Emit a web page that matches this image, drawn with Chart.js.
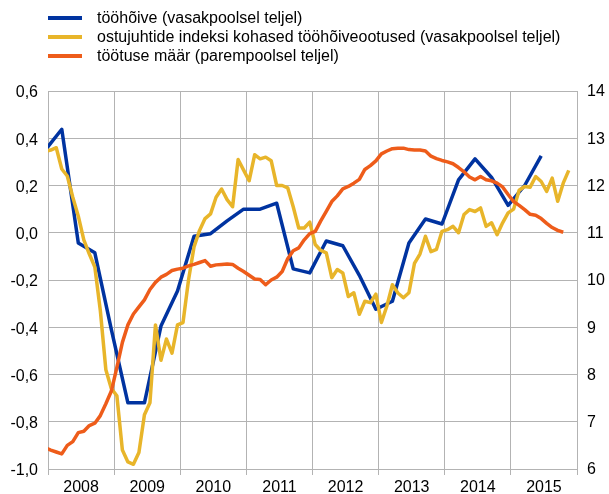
<!DOCTYPE html>
<html>
<head>
<meta charset="utf-8">
<script src="https://cdn.jsdelivr.net/npm/chart.js@4.4.1/dist/chart.umd.min.js"></script>
<style>
  body { margin: 0; background: #fff; }
  #wrap { position: relative; width: 609px; height: 494px; }
  #legend { position: absolute; left: 48px; top: 8px; font: 16px "Liberation Sans", Arial, sans-serif; color: #000; }
  .item { display: flex; align-items: center; height: 19.2px; white-space: nowrap; }
  .swatch { width: 34px; height: 4px; margin-right: 15px; }
</style>
</head>
<body>
<div id="wrap">
  <canvas id="chart" width="609" height="494"></canvas>
  <div id="legend"></div>
</div>
<script>
// aasta sildid x-teljel
const years = [2008, 2009, 2010, 2011, 2012, 2013, 2014, 2015];

const seriesNames = [
    'tööhõive (vasakpoolsel teljel)',
    'ostujuhtide indeksi kohased tööhõiveootused (vasakpoolsel teljel)',
    'töötuse määr (parempoolsel teljel)'
];
const colors = ['#0033a0', '#e8b52a', '#ee5c1a'];
const gridColor = '#b3b3b3';

// tööhõive, kvartaalne, alates 2007 IV kv
const employment = [
    0.35,
    0.438, -0.043, -0.085, -0.41,
    -0.72, -0.72, -0.395, -0.247,
    -0.015, -0.004, 0.05, 0.10,
    0.10, 0.125, -0.153, -0.17,
    -0.035, -0.055, -0.18, -0.324,
    -0.29, -0.043, 0.058, 0.037,
    0.224, 0.313, 0.234, 0.116,
    0.2, 0.325
];

// ostujuhtide indeks, igakuine, alates dets 2007
const pmiExpectations = [
    0.345,
    0.35, 0.36, 0.27, 0.24, 0.15, 0.07, -0.03, -0.09, -0.145, -0.33, -0.58, -0.66,
    -0.69, -0.92, -0.97, -0.98, -0.93, -0.77, -0.72, -0.39, -0.54, -0.45, -0.51, -0.39,
    -0.38, -0.20, -0.06, 0.01, 0.06, 0.08, 0.15, 0.185, 0.14, 0.11, 0.31, 0.265,
    0.22, 0.33, 0.313, 0.32, 0.305, 0.20, 0.20, 0.19, 0.11, 0.02, 0.02, 0.045,
    -0.05, -0.075, -0.085, -0.19, -0.156, -0.17, -0.27, -0.254, -0.345, -0.29, -0.296, -0.26,
    -0.38, -0.31, -0.22, -0.255, -0.275, -0.254, -0.13, -0.09, -0.015, -0.08, -0.07, 0.006,
    0.013, 0.027, 0.0, 0.077, 0.098, 0.09, 0.105, 0.027, 0.042, -0.008, 0.042, 0.084,
    0.10, 0.18, 0.196, 0.193, 0.238, 0.217, 0.175, 0.231, 0.133, 0.21, 0.264
];

// töötuse määr, igakuine, alates dets 2007
const unemployment = [
    6.45,
    6.40, 6.36, 6.32, 6.50, 6.58, 6.77, 6.80, 6.92, 6.97, 7.13, 7.38, 7.65,
    8.15, 8.68, 9.05, 9.28, 9.43, 9.58, 9.80, 9.95, 10.06, 10.12, 10.20, 10.23,
    10.25, 10.30, 10.33, 10.37, 10.41, 10.29, 10.32, 10.33, 10.34, 10.33, 10.25, 10.18,
    10.10, 10.02, 10.01, 9.90, 10.00, 10.06, 10.18, 10.45, 10.62, 10.68, 10.85, 10.98,
    11.03, 11.25, 11.45, 11.66, 11.78, 11.93, 11.98, 12.05, 12.13, 12.34, 12.42, 12.52,
    12.67, 12.73, 12.78, 12.79, 12.79, 12.76, 12.75, 12.75, 12.73, 12.62, 12.57, 12.53,
    12.50, 12.46, 12.38, 12.29, 12.18, 12.12, 12.19, 12.12, 12.10, 12.05, 11.97, 11.81,
    11.66, 11.58, 11.49, 11.39, 11.37, 11.30, 11.20, 11.11, 11.05, 11.01
];

// kuu keskpunkt aastates (indeks 0 = detsember 2007)
const monthX = i => 2007 + (11 + i + 0.5) / 12;
const quarterX = q => monthX(3 * q);

// legend HTML-is
const legendEl = document.getElementById('legend');
seriesNames.forEach((name, i) => {
    const row = document.createElement('div');
    row.className = 'item';
    row.innerHTML = '<span class="swatch" style="background:' + colors[i] + '"></span><span>' + name + '</span>';
    legendEl.appendChild(row);
});

Chart.defaults.font.family = '"Liberation Sans", Arial, sans-serif';
Chart.defaults.font.size = 16;
Chart.defaults.color = '#000';

const ctx = document.getElementById('chart').getContext('2d');
new Chart(ctx, {
    type: 'line',
    data: {
        datasets: [
            {
                label: seriesNames[0],
                data: employment.map((v, q) => ({ x: quarterX(q), y: v })),
                borderColor: colors[0],
                backgroundColor: colors[0],
                yAxisID: 'y',
                order: 2
            },
            {
                label: seriesNames[1],
                data: pmiExpectations.map((v, i) => ({ x: monthX(i), y: v })),
                borderColor: colors[1],
                backgroundColor: colors[1],
                yAxisID: 'y',
                order: 1
            },
            {
                label: seriesNames[2],
                data: unemployment.map((v, i) => ({ x: monthX(i), y: v })),
                borderColor: colors[2],
                backgroundColor: colors[2],
                yAxisID: 'y2',
                order: 0
            }
        ]
    },
    options: {
        responsive: false,
        animation: false,
        layout: { padding: { top: 91, left: 0, right: 0, bottom: 0 } },
        elements: {
            point: { radius: 0 },
            line: { borderWidth: 3.5, tension: 0, borderJoinStyle: 'round' }
        },
        plugins: {
            legend: { display: false },
            tooltip: { enabled: false }
        },
        scales: {
            x: {
                type: 'linear',
                min: 2008,
                max: 2016,
                afterBuildTicks: scale => {
                    const t = [];
                    years.forEach(y => { t.push({ value: y }); t.push({ value: y + 0.5 }); });
                    t.push({ value: years[years.length - 1] + 1 });
                    scale.ticks = t;
                },
                afterFit: scale => { scale.height = 25; },
                grid: {
                    color: c => (c.tick && c.tick.value % 1 === 0) ? gridColor : 'rgba(0,0,0,0)',
                    tickLength: 6,
                    lineWidth: 1
                },
                border: { color: gridColor },
                ticks: {
                    autoSkip: false,
                    maxRotation: 0,
                    padding: 3,
                    callback: v => (v % 1 ? String(Math.floor(v)) : '')
                }
            },
            y: {
                position: 'left',
                min: -1,
                max: 0.6,
                afterFit: scale => { scale.width = 48; },
                grid: { color: gridColor, drawTicks: false },
                border: { color: gridColor },
                ticks: {
                    stepSize: 0.2,
                    padding: 10,
                    labelOffset: 2,
                    callback: v => (Math.abs(v) < 1e-9 ? '0,0' : v.toFixed(1).replace('.', ','))
                }
            },
            y2: {
                position: 'right',
                min: 6,
                max: 14,
                afterFit: scale => { scale.width = 32; },
                grid: { display: false, drawTicks: false },
                border: { color: gridColor },
                ticks: { stepSize: 1, padding: 10, labelOffset: 1 }
            }
        }
    }
});
</script>
</body>
</html>
